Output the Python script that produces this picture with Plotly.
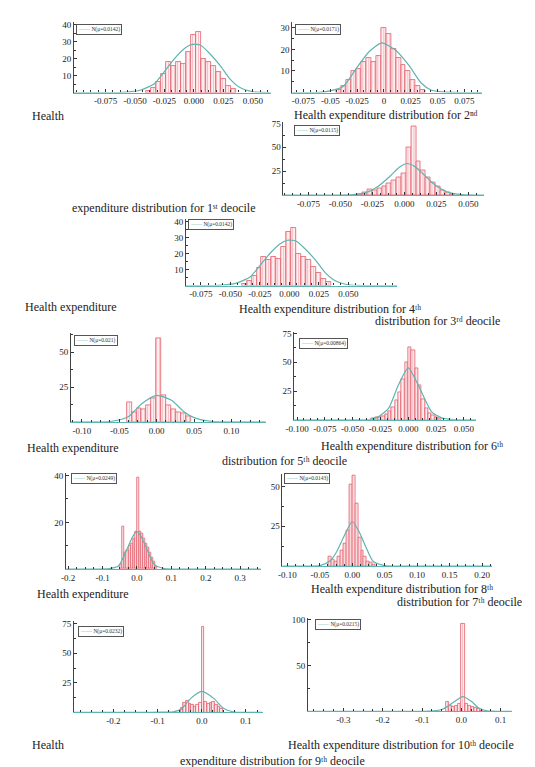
import plotly.graph_objects as go

# ---------------- data ----------------
# histogram: first bin left edge, bin width, counts
D1_START, D1_BINW = -0.0403, 0.0042
D1_COUNTS = [1, 3, 6, 11, 18, 16, 18, 17, 24, 34, 36, 20, 18, 16, 12, 8, 4, 2]
D1_CURVE_X = [-0.1017, -0.08, -0.06, -0.045, -0.0333, -0.025, -0.0167, -0.0083, -0.0015, 0.0056, 0.0139, 0.0222, 0.0306, 0.039, 0.05, 0.065]
D1_CURVE_Y = [0, 0, 0.1, 1.5, 5.4, 12.5, 20, 26, 28.5, 28, 22.7, 16, 8, 3, 0.5, 0]

D2_START, D2_BINW = -0.0440, 0.0046
D2_COUNTS = [1, 3, 6, 10, 11, 14, 16, 14, 17, 30, 27, 20, 16, 13, 10, 6, 3, 1]
D2_CURVE_X = [-0.0854, -0.07, -0.06, -0.05, -0.038, -0.026, -0.0137, -0.002, 0.0107, 0.023, 0.035, 0.044, 0.055, 0.07, 0.0915]
D2_CURVE_Y = [0, 0, 0.1, 0.8, 2.8, 11, 19, 23, 19.7, 12.8, 4.3, 1.2, 0.3, 0, 0]

D3_START, D3_BINW = -0.0365, 0.0038
D3_COUNTS = [1, 3, 6, 5, 7, 9, 12, 15, 18, 23, 50, 72, 35, 26, 18, 13, 9, 5, 3, 1]
D3_CURVE_X = [-0.0946, -0.06, -0.04, -0.03, -0.021, -0.011, -0.004, 0.002, 0.008, 0.014, 0.02, 0.026, 0.035, 0.045, 0.0623]
D3_CURVE_Y = [0, 0, 0.5, 2.5, 8.7, 20, 29, 33, 30, 23, 15, 8.7, 2.5, 0.5, 0]

D4_START, D4_BINW = -0.0403, 0.0042
D4_COUNTS = [1, 3, 6, 11, 18, 16, 18, 17, 24, 34, 36, 20, 18, 16, 12, 8, 4, 2]
D4_CURVE_X = [-0.0875, -0.07, -0.06, -0.045, -0.0333, -0.025, -0.0167, -0.0083, -0.0015, 0.0056, 0.0139, 0.0222, 0.0306, 0.039, 0.05, 0.065, 0.0917]
D4_CURVE_Y = [0, 0, 0.1, 1.5, 5.4, 12.5, 20, 26, 28.5, 28, 22.7, 16, 8, 3, 0.5, 0, 0]

D5_START, D5_BINW = -0.040, 0.0066
D5_COUNTS = [14, 7, 10, 9, 12, 17, 60, 19, 12, 9, 7, 6, 4]
D5_CURVE_X = [-0.1145, -0.08, -0.06, -0.038, -0.02, 0.0, 0.02, 0.037, 0.05, 0.07, 0.09, 0.146]
D5_CURVE_Y = [0, 0, 0.4, 3.6, 13, 19, 15.5, 7, 3, 0.5, 0, 0]

D6_START, D6_BINW = -0.033, 0.003
D6_COUNTS = [1, 2, 2, 3, 5, 7, 11, 17, 24, 35, 50, 63, 60, 45, 30, 18, 10, 6, 4, 2, 1]
D6_CURVE_X = [-0.1025, -0.05, -0.035, -0.027, -0.0177, -0.009, 0.0, 0.009, 0.021, 0.030, 0.04, 0.061]
D6_CURVE_Y = [0, 0, 0.3, 2.6, 10, 30, 45, 30, 7, 1.7, 0.2, 0]

D7_START, D7_BINW = -0.048, 0.006
D7_COUNTS = [2, 18, 7, 8, 10, 11, 13, 16, 39, 16, 15, 13, 11, 9, 7, 5, 3, 1]
D7_CURVE_X = [-0.2057, -0.12, -0.08, -0.054, -0.029, -0.012, 0.0, 0.012, 0.029, 0.05, 0.08, 0.12, 0.36]
D7_CURVE_Y = [0, 0, 0.2, 1.3, 8.5, 14, 16, 14, 8.5, 2, 0.2, 0, 0]

D8_START, D8_BINW = -0.036, 0.0045
D8_COUNTS = [6, 4, 3, 6, 10, 14, 22, 51, 57, 39, 18, 10, 6, 3, 2, 1]
D8_CURVE_X = [-0.1076, -0.07, -0.05, -0.035, -0.024, -0.0136, 0.0, 0.01, 0.021, 0.032, 0.05, 0.07, 0.2152]
D8_CURVE_Y = [0, 0, 0.3, 3, 9, 18, 28, 22, 12, 3, 0.3, 0, 0]

D9_START, D9_BINW = -0.048, 0.006
D9_COUNTS = [4, 8, 10, 7, 6, 5, 6, 8, 72, 9, 7, 8, 9, 6, 5, 3]
D9_CURVE_X = [-0.289, -0.12, -0.09, -0.065, -0.047, -0.025, 0.0, 0.027, 0.049, 0.07, 0.09, 0.138]
D9_CURVE_Y = [0, 0, 0.1, 0.5, 2.5, 11.8, 17.7, 11.8, 3.4, 0.5, 0.05, 0]

D10_START, D10_BINW = -0.040, 0.008
D10_COUNTS = [10, 6, 5, 6, 8, 96, 8, 6, 5, 4, 3, 1]
D10_CURVE_X = [-0.39, -0.15, -0.1, -0.07, -0.05, -0.035, -0.013, 0.003, 0.025, 0.045, 0.065, 0.1275]
D10_CURVE_Y = [0, 0, 0.05, 0.5, 2, 5.4, 12, 16, 11, 3.3, 0.5, 0]

LEGEND_LABELS = ["N(μ=0.0142)", "N(μ=0.0171)", "N(μ=0.0115)", "N(μ=0.0142)", "N(μ=0.021)",
                 "N(μ=0.00864)", "N(μ=0.0249)", "N(μ=0.0143)", "N(μ=0.0232)", "N(μ=0.0215)"]

X_TICKS = [
    [-0.075, -0.050, -0.025, 0.0, 0.025, 0.050],
    [-0.075, -0.05, -0.025, 0.0, 0.025, 0.05, 0.075],
    [-0.075, -0.050, -0.025, 0.0, 0.025, 0.050],
    [-0.075, -0.050, -0.025, 0.0, 0.025, 0.050],
    [-0.10, -0.05, 0.0, 0.05, 0.10, 0.15],
    [-0.100, -0.075, -0.050, -0.025, 0.0, 0.025, 0.050],
    [-0.2, -0.1, 0.0, 0.1, 0.2, 0.3],
    [-0.10, -0.05, 0.0, 0.05, 0.10, 0.15, 0.20],
    [-0.2, -0.1, 0.0, 0.1],
    [-0.4, -0.3, -0.2, -0.1, 0.0, 0.1],
]
X_TICK_LABELS = [
    ["-0.075", "-0.050", "-0.025", "0.000", "0.025", "0.050"],
    ["-0.075", "-0.05", "-0.025", "0", "0.025", "0.05", "0.075"],
    ["-0.075", "-0.050", "-0.025", "0.000", "0.025", "0.050"],
    ["-0.075", "-0.050", "-0.025", "0.000", "0.025", "0.050"],
    ["-0.10", "-0.05", "0.00", "0.05", "0.10", "0.15"],
    ["-0.100", "-0.075", "-0.050", "-0.025", "0.000", "0.025", "0.050"],
    ["-0.2", "-0.1", "0.0", "0.1", "0.2", "0.3"],
    ["-0.10", "-0.05", "0.00", "0.05", "0.10", "0.15", "0.20"],
    ["-0.2", "-0.1", "0.0", "0.1"],
    ["-0.4", "-0.3", "-0.2", "-0.1", "0.0", "0.1"],
]
Y_TICKS = [[10, 20, 30, 40], [10, 20, 30], [25, 50, 75], [10, 20, 30, 40], [25, 50],
           [25, 50, 75], [20, 40], [25, 50], [25, 50, 75], [50, 100]]

X_RANGES = [[-0.1017, 0.065], [-0.0854, 0.0915], [-0.0946, 0.0623], [-0.0875, 0.0917],
            [-0.1145, 0.146], [-0.1025, 0.061], [-0.2057, 0.36], [-0.1076, 0.2152],
            [-0.289, 0.138], [-0.39, 0.1275]]
Y_MAX = [41.8, 32.7, 76, 41.9, 63.6, 75.9, 41.3, 58.1, 77.5, 102]

CAPTIONS = [
    "Health",
    "Health expenditure distribution for 2ⁿᵈ",
    "expenditure distribution for 1ˢᵗ deocile",
    "Health expenditure",
    "Health expenditure distribution for 4ᵗʰ",
    "distribution for 3ʳᵈ deocile",
    "Health expenditure",
    "distribution for 5ᵗʰ deocile",
    "Health expenditure distribution for 6ᵗʰ",
    "Health expenditure",
    "Health expenditure distribution for 8ᵗʰ",
    "distribution for 7ᵗʰ deocile",
    "Health",
    "Health expenditure distribution for 10ᵗʰ deocile",
    "expenditure distribution for 9ᵗʰ deocile",
]

# ---------------- layout (pixel geometry) ----------------
W, H = 535, 767
PANEL_BOX = [  # x0, x1, ytop, ybottom in pixels
    (58, 258, 10, 81), (280, 473, 10, 81), (271, 475, 111, 184), (172, 387, 208, 275),
    (55, 253, 323, 412), (282, 467, 322, 410), (50, 248, 463, 560), (270, 483, 464, 557),
    (58, 250, 612, 704), (296, 503, 609, 703),
]
LEGEND_POS = [(60, 12), (283, 12), (282, 114), (174, 208), (58, 325), (287, 328),
              (55, 463), (272, 463), (62, 617), (303, 610)]
# x, y, anchor
CAPTION_POS = [(13, 105, "left"), (375, 104, "center"), (149, 197, "center"), (6, 297, "left"),
               (318, 299, "center"), (362, 311, "left"), (8, 438, "left"), (272, 451, "center"),
               (402, 436, "center"), (18, 585, "left"), (392, 580, "center"), (384, 593, "left"),
               (13, 737, "left"), (274, 737, "left"), (260, 753, "center")]

TEAL = "#5fb4b0"
RED = "#e2606c"

hist = [(D1_START, D1_BINW, D1_COUNTS), (D2_START, D2_BINW, D2_COUNTS), (D3_START, D3_BINW, D3_COUNTS),
        (D4_START, D4_BINW, D4_COUNTS), (D5_START, D5_BINW, D5_COUNTS), (D6_START, D6_BINW, D6_COUNTS),
        (D7_START, D7_BINW, D7_COUNTS), (D8_START, D8_BINW, D8_COUNTS), (D9_START, D9_BINW, D9_COUNTS),
        (D10_START, D10_BINW, D10_COUNTS)]
curves = [(D1_CURVE_X, D1_CURVE_Y), (D2_CURVE_X, D2_CURVE_Y), (D3_CURVE_X, D3_CURVE_Y),
          (D4_CURVE_X, D4_CURVE_Y), (D5_CURVE_X, D5_CURVE_Y), (D6_CURVE_X, D6_CURVE_Y),
          (D7_CURVE_X, D7_CURVE_Y), (D8_CURVE_X, D8_CURVE_Y), (D9_CURVE_X, D9_CURVE_Y),
          (D10_CURVE_X, D10_CURVE_Y)]

SERIF = "Liberation Serif, DejaVu Serif, serif"

fig = go.Figure()
layout = dict(width=W, height=H, margin=dict(l=0, r=0, t=0, b=0),
              paper_bgcolor="white", plot_bgcolor="white", showlegend=False,
              font=dict(family=SERIF, color="#222"), bargap=0)
annotations = []

for i in range(10):
    n = "" if i == 0 else str(i + 1)
    start, bw, counts = hist[i]
    centers = [start + bw * (k + 0.5) for k in range(len(counts))]
    fig.add_trace(go.Bar(
        x=centers, y=counts, width=bw, xaxis="x" + n, yaxis="y" + n,
        marker=dict(color="#fde9eb", line=dict(color=RED, width=0.8),
                    pattern=dict(shape="|", fgcolor="#ee8e97", bgcolor="#fff3f4", size=3, solidity=0.4)),
    ))
    cx, cy = curves[i]
    fig.add_trace(go.Scatter(
        x=cx, y=cy, mode="lines", xaxis="x" + n, yaxis="y" + n,
        line=dict(color=TEAL, width=1.2, shape="spline", smoothing=0.6),
    ))
    x0, x1, yt, yb = PANEL_BOX[i]
    xr = X_RANGES[i]
    major = X_TICKS[i][1] - X_TICKS[i][0]
    layout["xaxis" + n] = dict(
        domain=[x0 / W, x1 / W], range=xr, anchor="y" + n,
        tickvals=X_TICKS[i], ticktext=X_TICK_LABELS[i], ticks="inside", ticklen=3,
        tickcolor="#333", tickfont=dict(size=9, family=SERIF, color="#222"),
        showline=True, linecolor=TEAL, linewidth=1.2, showgrid=False, zeroline=False,
        minor=dict(ticks="inside", ticklen=2, tickcolor="#333", dtick=major / 4, tick0=X_TICKS[i][0]),
    )
    ymajor = Y_TICKS[i][1] - Y_TICKS[i][0]
    layout["yaxis" + n] = dict(
        domain=[1 - yb / H, 1 - yt / H], range=[0, Y_MAX[i]], anchor="x" + n,
        tickvals=Y_TICKS[i], ticks="inside", ticklen=3, tickcolor="#333",
        tickfont=dict(size=9, family=SERIF, color="#222"),
        showline=True, linecolor="#444", linewidth=1, showgrid=False, zeroline=False,
        minor=dict(ticks="inside", ticklen=2, tickcolor="#333", dtick=ymajor / 2),
    )
    lx, ly = LEGEND_POS[i]
    annotations.append(dict(
        x=lx / W, y=1 - ly / H, xref="paper", yref="paper", xanchor="left", yanchor="top",
        text="<span style='color:%s'>——</span> %s" % (TEAL, LEGEND_LABELS[i]),
        showarrow=False, font=dict(size=5.5, family=SERIF, color="#333"),
        bordercolor="#555", borderwidth=1, borderpad=1, bgcolor="white",
    ))

for txt, (tx, ty, anc) in zip(CAPTIONS, CAPTION_POS):
    annotations.append(dict(
        x=tx / W, y=1 - ty / H, xref="paper", yref="paper", xanchor=anc, yanchor="middle",
        text=txt, showarrow=False, font=dict(size=12, family=SERIF, color="#222"),
    ))

layout["annotations"] = annotations
fig.update_layout(**layout)
fig.write_html("out.html")
